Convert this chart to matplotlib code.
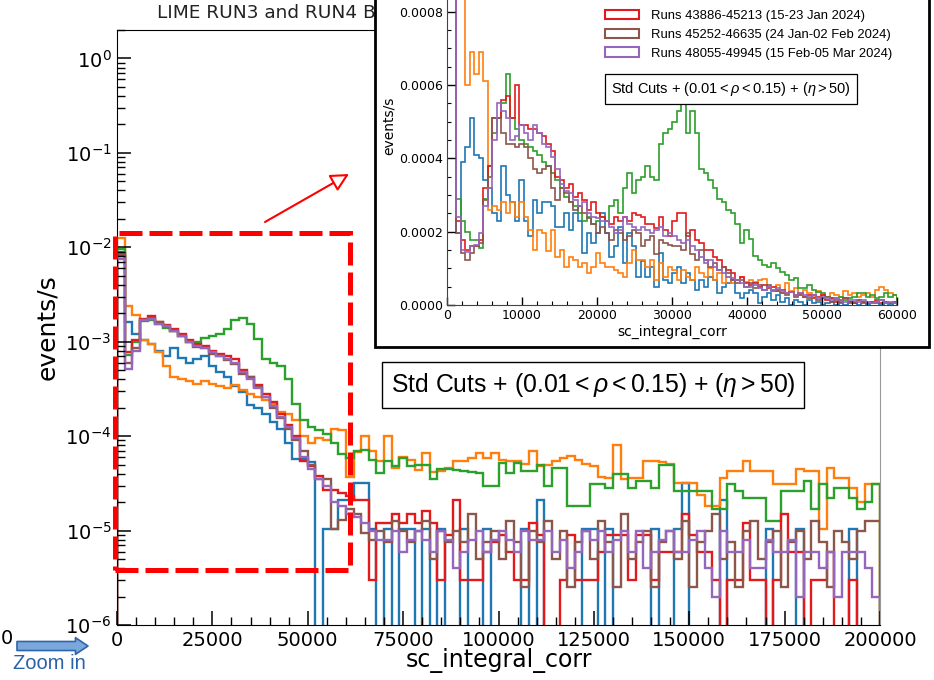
import numpy as np
import matplotlib
matplotlib.use('Agg')
import matplotlib.pyplot as plt
from matplotlib.patches import Rectangle, Patch, FancyArrowPatch
from matplotlib.ticker import MultipleLocator, FormatStrFormatter, LogLocator, NullFormatter

plt.rcParams['font.family'] = 'DejaVu Sans'
plt.rcParams['mathtext.rm'] = 'Liberation Sans'
plt.rcParams['mathtext.it'] = 'Liberation Sans:italic'
plt.rcParams['mathtext.bf'] = 'Liberation Sans:bold'

# ---------------- data (events/s per bin) ----------------
main_edges = np.linspace(0, 200000, 101)   # 2000-wide bins
zoom_edges = np.linspace(0, 60000, 101)    # 600-wide bins

colors = ['#1f77b4', '#ff7f0e', '#2ca02c', '#e31a1c', '#8c564b', '#9467bd']
labels_visible = ['Runs 43886-45213 (15-23 Jan 2024)',
                  'Runs 45252-46635 (24 Jan-02 Feb 2024)',
                  'Runs 48055-49945 (15 Feb-05 Mar 2024)']
cut_label = 'Std Cuts + $(0.01 < \\rho < 0.15)$ + $(\\eta > 50)$'

main_blue = [9.0e-3, 1.6e-3, 1.2e-3, 1.05e-3, 9.5e-4, 8.0e-4, 7.0e-4, 8.5e-4, 6.8e-4, 6.0e-4,
             6.5e-4, 7.0e-4, 5.5e-4, 4.8e-4, 4.2e-4, 3.4e-4, 2.9e-4, 2.15e-4, 2.0e-4, 1.7e-4,
             1.4e-4, 1.18e-4, 8.5e-5, 5.7e-5, 5.7e-5, 5.3e-5, 0, 1.05e-5, 1.05e-5, 2.1e-5,
             2.1e-5, 3.2e-5, 3.2e-5, 1.05e-5, 0, 1.05e-5, 0, 1.05e-5, 1.05e-5, 0,
             1.05e-5, 0, 1.05e-5, 0, 0, 1.05e-5, 0, 0, 1.05e-5, 0,
             0, 0, 0, 1.05e-5, 0, 2.1e-5, 0, 0, 0, 0,
             0, 1.05e-5, 1.05e-5, 0, 1.05e-5, 0, 0, 0, 0, 0,
             1.05e-5, 0, 0, 1.05e-5, 3.2e-5, 0, 0, 0, 0, 2.1e-5,
             0, 0, 0, 0, 0, 1.05e-5, 0, 0, 0, 1.05e-5,
             0, 0, 0, 0, 0, 0, 1.05e-5, 0, 0, 0]
main_orange = [1.25e-2, 2.4e-3, 1.9e-3, 1.05e-3, 9.5e-4, 7.8e-4, 5.5e-4, 4.2e-4, 4.0e-4, 3.8e-4,
               3.6e-4, 3.8e-4, 3.6e-4, 3.4e-4, 3.2e-4, 3.5e-4, 3.1e-4, 2.8e-4, 2.6e-4, 2.4e-4,
               2.2e-4, 1.8e-4, 1.7e-4, 1.5e-4, 1.0e-4, 8.5e-5, 9.5e-5, 9.0e-5, 1.18e-4, 1.15e-4,
               3.7e-5, 6.8e-5, 1.0e-4, 7.0e-5, 5.5e-5, 1.0e-4, 4.6e-5, 6.0e-5, 5.6e-5, 4.4e-5,
               6.6e-5, 4.2e-5, 4.3e-5, 4.6e-5, 5.4e-5, 5.4e-5, 5.8e-5, 6.6e-5, 5.8e-5, 6.6e-5,
               5.6e-5, 5.4e-5, 5.4e-5, 5.1e-5, 7.0e-5, 4.8e-5, 5.0e-5, 5.4e-5, 5.8e-5, 6.1e-5,
               5.6e-5, 5.1e-5, 4.8e-5, 3.7e-5, 3.6e-5, 8.1e-5, 3.5e-5, 3.6e-5, 3.6e-5, 5.5e-5,
               5.5e-5, 5.3e-5, 5.1e-5, 3.2e-5, 3.2e-5, 3.2e-5, 2.4e-5, 1.8e-5, 1.8e-5, 3.6e-5,
               4.3e-5, 4.3e-5, 5.5e-5, 4.3e-5, 4.3e-5, 4.3e-5, 3.1e-5, 3.1e-5, 3.1e-5, 4.5e-5,
               4.3e-5, 4.3e-5, 1.03e-5, 4.6e-5, 3.6e-5, 3.6e-5, 2.8e-5, 2.0e-5, 3.1e-5, 3.1e-5]
main_green = [9.5e-3, 7.2e-4, 1.0e-3, 1.65e-3, 1.7e-3, 1.55e-3, 1.4e-3, 1.3e-3, 1.15e-3, 1.0e-3,
              1.0e-3, 1.1e-3, 1.15e-3, 1.2e-3, 1.35e-3, 1.7e-3, 1.8e-3, 1.55e-3, 1.06e-3, 6.5e-4,
              6.0e-4, 5.5e-4, 4.0e-4, 2.2e-4, 1.5e-4, 1.25e-4, 1.15e-4, 1.05e-4, 8.5e-5, 6.5e-5,
              5.8e-5, 7.0e-5, 7.2e-5, 5.6e-5, 4.1e-5, 5.4e-5, 4.8e-5, 5.8e-5, 4.8e-5, 5.0e-5,
              5.0e-5, 3.5e-5, 4.5e-5, 4.5e-5, 4.4e-5, 4.3e-5, 4.2e-5, 4.1e-5, 3.0e-5, 3.0e-5,
              5.2e-5, 4.1e-5, 5.2e-5, 4.3e-5, 4.3e-5, 5.0e-5, 3.0e-5, 4.6e-5, 4.6e-5, 1.8e-5,
              1.8e-5, 1.8e-5, 3.1e-5, 3.1e-5, 2.8e-5, 4.0e-5, 4.0e-5, 2.8e-5, 3.35e-5, 3.35e-5,
              2.8e-5, 4.9e-5, 4.9e-5, 2.6e-5, 2.6e-5, 2.6e-5, 2.6e-5, 2.6e-5, 1.7e-5, 1.7e-5,
              3.1e-5, 2.6e-5, 2.2e-5, 2.2e-5, 2.2e-5, 1.27e-5, 1.27e-5, 2.6e-5, 2.6e-5, 2.6e-5,
              3.35e-5, 1.7e-5, 3.1e-5, 2.2e-5, 2.8e-5, 2.8e-5, 2.2e-5, 1.7e-5, 2.0e-5, 3.1e-5]
main_red = [8.0e-3, 7.8e-4, 1.05e-3, 1.75e-3, 1.85e-3, 1.6e-3, 1.5e-3, 1.35e-3, 1.2e-3, 1.05e-3,
            9.5e-4, 9.0e-4, 8.0e-4, 7.5e-4, 7.0e-4, 6.5e-4, 5.0e-4, 4.2e-4, 3.5e-4, 2.8e-4,
            2.3e-4, 1.7e-4, 1.3e-4, 1.0e-4, 5.5e-5, 4.8e-5, 3.8e-5, 2.7e-5, 2.7e-5, 2.5e-5,
            2.3e-5, 2.1e-5, 2.1e-5, 3e-6, 1.2e-5, 1.2e-5, 1.5e-5, 1.2e-5, 1.5e-5, 1.2e-5,
            1.6e-5, 1.2e-5, 3e-6, 9e-6, 2.1e-5, 3e-6, 3e-6, 3e-6, 6e-6, 7.6e-6,
            9e-6, 6e-6, 3e-6, 3e-6, 1.2e-5, 9e-6, 0, 0, 3e-6, 9e-6,
            3e-6, 3e-6, 3e-6, 6e-6, 9e-6, 9e-6, 9e-6, 3e-6, 9e-6, 9e-6,
            3e-6, 6e-6, 6e-6, 6e-6, 1.5e-5, 9e-6, 6e-6, 6e-6, 3e-6, 0,
            3e-6, 3e-6, 1.2e-5, 3e-6, 3e-6, 0, 3e-6, 1.5e-5, 6e-6, 6e-6,
            0, 3e-6, 3e-6, 6e-6, 0, 0, 3e-6, 0, 0, 0]
main_brown = [8.5e-3, 6.0e-4, 8.5e-4, 1.7e-3, 1.8e-3, 1.6e-3, 1.45e-3, 1.3e-3, 1.15e-3, 1.0e-3,
              8.8e-4, 8.5e-4, 7.5e-4, 7.0e-4, 6.4e-4, 5.8e-4, 4.6e-4, 4.2e-4, 3.3e-4, 2.6e-4,
              2.0e-4, 1.55e-4, 1.2e-4, 9.2e-5, 7.0e-5, 5.0e-5, 3.5e-5, 3.5e-5, 1.05e-5, 1.3e-5,
              1.7e-5, 1.5e-5, 9.5e-6, 8e-6, 1.0e-5, 7.5e-6, 1.25e-5, 1.0e-5, 7.5e-6, 1.0e-5,
              1.25e-5, 5e-6, 1.0e-5, 7.5e-6, 1.0e-5, 7.5e-6, 1.5e-5, 5e-6, 7.5e-6, 1.0e-5,
              5e-6, 1.25e-5, 7.5e-6, 2.5e-6, 1.0e-5, 7.5e-6, 1.25e-5, 5e-6, 1.0e-5, 2.5e-6,
              7.5e-6, 1.0e-5, 5e-6, 1.25e-5, 7.5e-6, 2.5e-6, 1.5e-5, 5e-6, 7.5e-6, 1.0e-5,
              2.5e-6, 7.5e-6, 1.0e-5, 5e-6, 1.25e-5, 2.5e-6, 7.5e-6, 1.0e-5, 1.5e-5, 5e-6,
              7.5e-6, 2.5e-6, 1.0e-5, 1.25e-5, 5e-6, 7.5e-6, 1.0e-5, 2.5e-6, 7.5e-6, 1.0e-5,
              5e-6, 1.25e-5, 7.5e-6, 2.5e-6, 1.0e-5, 7.5e-6, 5e-6, 1.0e-5, 1.25e-5, 1.25e-5]
main_purple = [7.5e-3, 5.1e-4, 8.0e-4, 1.7e-3, 1.75e-3, 1.55e-3, 1.45e-3, 1.3e-3, 1.15e-3, 1.0e-3,
               9.0e-4, 8.5e-4, 7.8e-4, 7.0e-4, 6.5e-4, 6.0e-4, 4.8e-4, 4.0e-4, 3.2e-4, 2.6e-4,
               2.1e-4, 1.6e-4, 1.25e-4, 9.5e-5, 6.0e-5, 4.5e-5, 3.5e-5, 3.0e-5, 2.0e-5, 1.8e-5,
               1.5e-5, 1.4e-5, 1.2e-5, 1.0e-5, 8e-6, 8e-6, 1.0e-5, 6e-6, 8e-6, 1.0e-5,
               8e-6, 6e-6, 1.0e-5, 8e-6, 4e-6, 6e-6, 8e-6, 1.0e-5, 6e-6, 8e-6,
               1.0e-5, 8e-6, 6e-6, 1.0e-5, 8e-6, 8e-6, 1.0e-5, 6e-6, 8e-6, 4e-6,
               6e-6, 1.0e-5, 8e-6, 1.0e-5, 6e-6, 8e-6, 1.0e-5, 6e-6, 1.0e-5, 4e-6,
               6e-6, 8e-6, 1.0e-5, 6e-6, 6e-6, 8e-6, 1.0e-5, 4e-6, 2e-6, 1.0e-5,
               6e-6, 6e-6, 8e-6, 4e-6, 4e-6, 8e-6, 6e-6, 6e-6, 8e-6, 2e-6,
               6e-6, 6e-6, 4e-6, 6e-6, 2e-6, 6e-6, 6e-6, 6e-6, 4e-6, 2e-6]

zoom_blue = [2.5e-3, 2.5e-3, 1.96e-4, 3.9e-4, 4.3e-4, 5.1e-4, 4.1e-4, 4.0e-4, 3.4e-4, 3.2e-4,
             2.5e-4, 2.3e-4, 3.8e-4, 3.0e-4, 2.8e-4, 2.3e-4, 3.4e-4, 2.3e-4, 1.87e-4, 2.87e-4,
             2.5e-4, 2.8e-4, 2.8e-4, 2.7e-4, 2.14e-4, 2.14e-4, 2.5e-4, 2.05e-4, 2.5e-4, 2.3e-4,
             1.41e-4, 1.96e-4, 1.68e-4, 1.96e-4, 2.5e-4, 1.96e-4, 1.32e-4, 1.6e-4, 2.14e-4, 1.14e-4,
             1.96e-4, 1.6e-4, 7.7e-5, 1.2e-4, 7.7e-5, 1.05e-4, 5.0e-5, 1.41e-4, 6.8e-5, 5.9e-5,
             8.6e-5, 1.05e-4, 5.9e-5, 8.6e-5, 6.8e-5, 4.1e-5, 6.8e-5, 5.0e-5, 7.7e-5, 6.8e-5,
             3.2e-5, 5.0e-5, 5.9e-5, 6.8e-5, 3.2e-5, 1.8e-5, 3.2e-5, 4.1e-5, 3.2e-5, 4.5e-6,
             2.3e-5, 3.2e-5, 1.4e-5, 2.7e-5, 9e-6, 1.8e-5, 0, 1.4e-5, 9e-6, 0,
             1.4e-5, 4.5e-6, 9e-6, 0, 4.5e-6, 9e-6, 0, 4.5e-6, 0, 9e-6,
             4.5e-6, 0, 4.5e-6, 0, 4.5e-6, 9e-6, 0, 4.5e-6, 0, 4.5e-6]
zoom_orange = [3.0e-3, 3.0e-3, 3.0e-3, 3.0e-3, 6.0e-4, 6.9e-4, 6.3e-4, 6.9e-4, 6.1e-4, 2.6e-4,
               2.7e-4, 2.6e-4, 2.8e-4, 2.5e-4, 2.8e-4, 2.4e-4, 2.8e-4, 2.4e-4, 2.05e-4, 1.5e-4,
               2.05e-4, 1.96e-4, 1.46e-4, 2.05e-4, 1.32e-4, 1.5e-4, 1.05e-4, 1.32e-4, 1.23e-4, 1.05e-4,
               1.14e-4, 8.6e-5, 1.05e-4, 1.41e-4, 1.14e-4, 1.05e-4, 1.05e-4, 9.6e-5, 8.6e-5, 7.7e-5,
               1.14e-4, 1.5e-4, 1.23e-4, 1.23e-4, 1.05e-4, 1.23e-4, 6.8e-5, 1.14e-4, 7.7e-5, 1.05e-4,
               9.6e-5, 6.8e-5, 9.6e-5, 7.7e-5, 6.8e-5, 1.05e-4, 8.6e-5, 7.7e-5, 1.0e-4, 6.8e-5,
               8.6e-5, 5.9e-5, 7.7e-5, 5.9e-5, 6.8e-5, 7.7e-5, 6.4e-5, 6.8e-5, 6.4e-5, 6.8e-5,
               7.0e-5, 5.0e-5, 4.1e-5, 5.5e-5, 3.2e-5, 6.0e-5, 3.7e-5, 4.6e-5, 2.7e-5, 4.1e-5,
               3.2e-5, 2.3e-5, 3.7e-5, 2.7e-5, 2.3e-5, 3.2e-5, 2.7e-5, 2.3e-5, 3.7e-5, 2.7e-5,
               3.2e-5, 2.3e-5, 2.7e-5, 3.2e-5, 2.3e-5, 4.1e-5, 5.0e-5, 4.1e-5, 3.2e-5, 2.7e-5]
zoom_green = [2.5e-3, 2.5e-3, 2.9e-4, 2.3e-4, 2.0e-4, 1.77e-4, 1.77e-4, 1.55e-4, 2.9e-4, 3.8e-4,
              4.7e-4, 5.1e-4, 5.5e-4, 6.3e-4, 5.1e-4, 4.8e-4, 4.5e-4, 4.4e-4, 4.3e-4, 4.2e-4,
              4.1e-4, 3.9e-4, 3.8e-4, 3.6e-4, 3.4e-4, 3.2e-4, 2.96e-4, 2.8e-4, 2.7e-4, 2.5e-4,
              2.3e-4, 2.4e-4, 2.2e-4, 2.3e-4, 2.4e-4, 2.3e-4, 2.7e-4, 2.87e-4, 2.5e-4, 3.2e-4,
              3.6e-4, 3.05e-4, 3.4e-4, 3.5e-4, 3.8e-4, 3.5e-4, 3.4e-4, 4.4e-4, 4.7e-4, 4.8e-4,
              5.0e-4, 5.3e-4, 5.6e-4, 4.7e-4, 5.3e-4, 4.7e-4, 3.7e-4, 3.6e-4, 3.4e-4, 3.2e-4,
              2.9e-4, 2.8e-4, 2.6e-4, 2.5e-4, 2.2e-4, 1.7e-4, 2.05e-4, 1.8e-4, 1.35e-4, 1.23e-4,
              1.1e-4, 1.05e-4, 1.14e-4, 1.0e-4, 9.1e-5, 8.2e-5, 6.8e-5, 7.3e-5, 4.6e-5, 4.6e-5,
              5.5e-5, 4.1e-5, 3.6e-5, 3.2e-5, 2.3e-5, 1.8e-5, 1.8e-5, 2.3e-5, 1.4e-5, 1.8e-5,
              2.3e-5, 3.2e-5, 3.2e-5, 2.3e-5, 2.8e-5, 1.8e-5, 2.3e-5, 3.2e-5, 2.3e-5, 2.8e-5]
zoom_red = [2.5e-3, 2.5e-3, 2.3e-4, 1.77e-4, 1.5e-4, 1.6e-4, 1.6e-4, 1.77e-4, 3.2e-4, 3.8e-4,
            5.1e-4, 5.1e-4, 5.6e-4, 5.7e-4, 5.1e-4, 6.0e-4, 4.9e-4, 4.9e-4, 4.8e-4, 4.8e-4,
            4.7e-4, 4.6e-4, 4.4e-4, 4.2e-4, 3.5e-4, 3.4e-4, 3.2e-4, 3.3e-4, 2.96e-4, 3.05e-4,
            2.87e-4, 2.6e-4, 2.8e-4, 2.5e-4, 2.4e-4, 2.3e-4, 2.2e-4, 2.4e-4, 2.3e-4, 2.4e-4,
            2.3e-4, 2.5e-4, 2.45e-4, 2.4e-4, 2.2e-4, 2.2e-4, 2.1e-4, 2.4e-4, 2.05e-4, 1.87e-4,
            2.3e-4, 2.5e-4, 2.5e-4, 1.87e-4, 2.05e-4, 1.77e-4, 1.68e-4, 1.5e-4, 1.5e-4, 1.32e-4,
            1.23e-4, 1.05e-4, 9.6e-5, 8.6e-5, 6.8e-5, 7.7e-5, 5.9e-5, 5.5e-5, 6.0e-5, 5.0e-5,
            5.5e-5, 4.6e-5, 5.0e-5, 3.7e-5, 4.1e-5, 3.2e-5, 3.6e-5, 2.7e-5, 3.2e-5, 2.3e-5,
            2.7e-5, 1.8e-5, 2.3e-5, 2.7e-5, 1.4e-5, 1.8e-5, 9e-6, 1.4e-5, 1.8e-5, 9e-6,
            4.5e-6, 1.4e-5, 9e-6, 4.5e-6, 9e-6, 1.4e-5, 4.5e-6, 9e-6, 4.5e-6, 9e-6]
zoom_brown = [2.5e-3, 2.5e-3, 1.96e-4, 1.41e-4, 1.23e-4, 1.41e-4, 1.6e-4, 1.7e-4, 2.87e-4, 3.5e-4,
              5.1e-4, 5.1e-4, 4.7e-4, 4.4e-4, 4.4e-4, 4.3e-4, 4.4e-4, 4.3e-4, 4.0e-4, 3.7e-4,
              3.6e-4, 3.7e-4, 3.8e-4, 3.2e-4, 2.87e-4, 3.2e-4, 3.05e-4, 2.8e-4, 2.6e-4, 2.7e-4,
              2.5e-4, 2.37e-4, 2.2e-4, 1.96e-4, 2.14e-4, 1.96e-4, 1.77e-4, 2.05e-4, 1.96e-4, 1.77e-4,
              1.87e-4, 2.05e-4, 1.96e-4, 1.6e-4, 1.77e-4, 1.87e-4, 1.4e-4, 1.77e-4, 1.68e-4, 1.64e-4,
              1.6e-4, 1.6e-4, 1.5e-4, 1.96e-4, 1.4e-4, 1.23e-4, 1.5e-4, 1.23e-4, 1.05e-4, 1.14e-4,
              9.6e-5, 1.05e-4, 8.6e-5, 6.8e-5, 5.9e-5, 6.8e-5, 5.0e-5, 5.9e-5, 4.6e-5, 5.5e-5,
              4.1e-5, 5.5e-5, 3.7e-5, 4.1e-5, 3.2e-5, 2.7e-5, 3.6e-5, 2.3e-5, 2.7e-5, 2.3e-5,
              1.8e-5, 2.7e-5, 1.4e-5, 1.8e-5, 2.3e-5, 9e-6, 1.4e-5, 9e-6, 1.8e-5, 4.5e-6,
              9e-6, 1.4e-5, 9e-6, 4.5e-6, 9e-6, 4.5e-6, 1.4e-5, 9e-6, 4.5e-6, 9e-6]
zoom_purple = [2.5e-3, 2.5e-3, 2.4e-4, 1.5e-4, 1.45e-4, 1.6e-4, 1.65e-4, 1.96e-4, 2.7e-4, 3.2e-4,
               4.5e-4, 5.5e-4, 5.3e-4, 5.1e-4, 4.5e-4, 4.6e-4, 4.9e-4, 4.7e-4, 4.5e-4, 4.9e-4,
               4.7e-4, 4.4e-4, 4.3e-4, 4.05e-4, 3.7e-4, 3.3e-4, 3.1e-4, 3.05e-4, 2.87e-4, 2.7e-4,
               2.8e-4, 2.5e-4, 2.4e-4, 2.37e-4, 2.3e-4, 2.28e-4, 2.14e-4, 1.96e-4, 2.05e-4, 2.4e-4,
               2.2e-4, 2.14e-4, 2.05e-4, 2.14e-4, 2.05e-4, 1.96e-4, 2.05e-4, 2.14e-4, 1.87e-4, 1.96e-4,
               1.87e-4, 1.77e-4, 1.68e-4, 1.77e-4, 1.6e-4, 1.5e-4, 1.32e-4, 1.14e-4, 1.23e-4, 1.05e-4,
               9.6e-5, 8.6e-5, 7.7e-5, 7.3e-5, 6.8e-5, 5.9e-5, 5.0e-5, 5.0e-5, 5.5e-5, 4.6e-5,
               4.1e-5, 5.0e-5, 4.1e-5, 4.6e-5, 3.7e-5, 3.2e-5, 3.6e-5, 2.7e-5, 3.2e-5, 2.7e-5,
               2.3e-5, 2.7e-5, 1.8e-5, 2.3e-5, 1.8e-5, 1.4e-5, 1.8e-5, 1.4e-5, 9e-6, 1.4e-5,
               1.4e-5, 9e-6, 1.4e-5, 9e-6, 4.5e-6, 9e-6, 1.4e-5, 4.5e-6, 9e-6, 4.5e-6]

main_series = [main_blue, main_orange, main_green, main_red, main_brown, main_purple]
zoom_series = [zoom_blue, zoom_orange, zoom_green, zoom_red, zoom_brown, zoom_purple]

# zoomed region marked on the main plot
box_x = (-400, 61000)
box_y = (3.8e-6, 0.014)

# ---------------- layout helpers (pixels -> figure fraction) ----------------
W, H = 934, 680
fx = lambda px: px / W
fy = lambda py: 1 - py / H

fig = plt.figure(figsize=(W / 100, H / 100), dpi=100)

# ---------------- main plot ----------------
ax = fig.add_axes([fx(117), fy(625), fx(880) - fx(117), fy(30) - fy(625)], zorder=0)
for vals, c in zip(main_series, colors):
    ax.stairs(vals, main_edges, color=c, lw=1.7)
ax.set_yscale('log')
ax.set_xlim(0, 200000)
ax.set_ylim(1e-6, 2.0)
ax.xaxis.set_major_locator(MultipleLocator(25000))
ax.xaxis.set_minor_locator(MultipleLocator(5000))
ax.yaxis.set_major_locator(LogLocator(base=10, numticks=15))
ax.yaxis.set_minor_locator(LogLocator(base=10, subs=np.arange(2, 10), numticks=15))
ax.yaxis.set_minor_formatter(NullFormatter())
ax.tick_params(which='both', direction='in', top=False, right=False)
ax.tick_params(which='major', length=10, width=1.1, labelsize=14, pad=4)
ax.tick_params(which='minor', length=5.5, width=1.0)
ax.spines['right'].set_color('#999999')
ax.set_xlabel('sc_integral_corr', fontsize=17, labelpad=-1)
ax.set_ylabel('events/s', fontsize=18)

ax.add_patch(Rectangle((box_x[0], box_y[0]), box_x[1] - box_x[0], box_y[1] - box_y[0],
                       fill=False, ec='red', lw=3.6, ls=(0, (4.6, 1.4)), clip_on=False, zorder=5))

fig.text(fx(157), fy(13), 'LIME RUN3 and RUN4 B', ha='left', va='center',
         fontsize=13.3, color='#222222', zorder=0.5)
fig.text(fx(593), fy(385), cut_label, ha='center', va='center', fontsize=17.8,
         family='Liberation Sans', math_fontfamily='custom', zorder=3,
         bbox=dict(boxstyle='square,pad=0.35', fc='white', ec='black', lw=1.0))

# red arrow pointing to the zoom
fig.add_artist(FancyArrowPatch((fx(265), fy(222)), (fx(349), fy(174)), transform=fig.transFigure,
                               arrowstyle='-|>,head_length=0.55,head_width=0.28', mutation_scale=20,
                               ec='red', fc='white', lw=1.5, shrinkA=0, shrinkB=0, zorder=4))

# bits left over from the neighbouring panel
fig.text(fx(0.5), fy(638), '0', ha='left', va='center', fontsize=14)
fig.add_artist(FancyArrowPatch((fx(17), fy(646)), (fx(88), fy(646)), transform=fig.transFigure,
                               arrowstyle='simple,head_length=0.9,head_width=1.2,tail_width=0.65',
                               mutation_scale=10, fc='#7aa7dc', ec='#2f66a8', lw=1.2,
                               shrinkA=0, shrinkB=0, zorder=4))
fig.text(fx(13), fy(669), 'Zoom in', ha='left', va='baseline', fontsize=14.5,
         family='Liberation Sans', color='#2a62a8')

# ---------------- inset (zoom) ----------------
fig.add_artist(Rectangle((fx(375), fy(347)), fx(929) - fx(375), 0.6, transform=fig.transFigure,
                         fc='white', ec='black', lw=2.0, zorder=1))

zoom_top = 0.00098
axi = fig.add_axes([fx(447), fy(305), fx(897) - fx(447), zoom_top / 0.0002 * 73.3 / H], zorder=2)
axi.patch.set_alpha(0)
for vals, c in zip(zoom_series, colors):
    axi.stairs(vals, zoom_edges, color=c, lw=1.2)
axi.set_xlim(0, 60000)
axi.set_ylim(0, zoom_top)
axi.xaxis.set_major_locator(MultipleLocator(10000))
axi.xaxis.set_minor_locator(MultipleLocator(2000))
axi.yaxis.set_major_locator(MultipleLocator(0.0002))
axi.yaxis.set_minor_locator(MultipleLocator(0.00005))
axi.yaxis.set_major_formatter(FormatStrFormatter('%.4f'))
axi.tick_params(which='both', direction='in', top=False, right=False, labelsize=9)
axi.tick_params(which='major', length=5.5, width=1.0, pad=3)
axi.tick_params(which='minor', length=3, width=0.8)
axi.spines['right'].set_visible(False)
axi.spines['top'].set_visible(False)
for s in ('left', 'bottom'):
    axi.spines[s].set_color('#444444')
axi.set_xlabel('sc_integral_corr', fontsize=10, labelpad=2)
axi.set_ylabel('events/s', fontsize=10, labelpad=2)

handles = [Patch(fc='none', ec=c, lw=1.5) for c in colors[3:]]
axi.legend(handles, labels_visible, loc='upper left', bbox_to_anchor=(fx(600), fy(4.5)),
           bbox_transform=fig.transFigure, frameon=False, borderaxespad=0, borderpad=0.4,
           prop={'family': 'Liberation Sans', 'size': 9.4}, handlelength=2.6, handleheight=0.75,
           handletextpad=0.9, labelspacing=0.5)
axi.text(fx(731), fy(89), cut_label, transform=fig.transFigure, ha='center', va='center',
         fontsize=10.5, family='Liberation Sans', math_fontfamily='custom',
         bbox=dict(boxstyle='square,pad=0.4', fc='white', ec='black', lw=0.9))

fig.savefig('out.png', dpi=100)
